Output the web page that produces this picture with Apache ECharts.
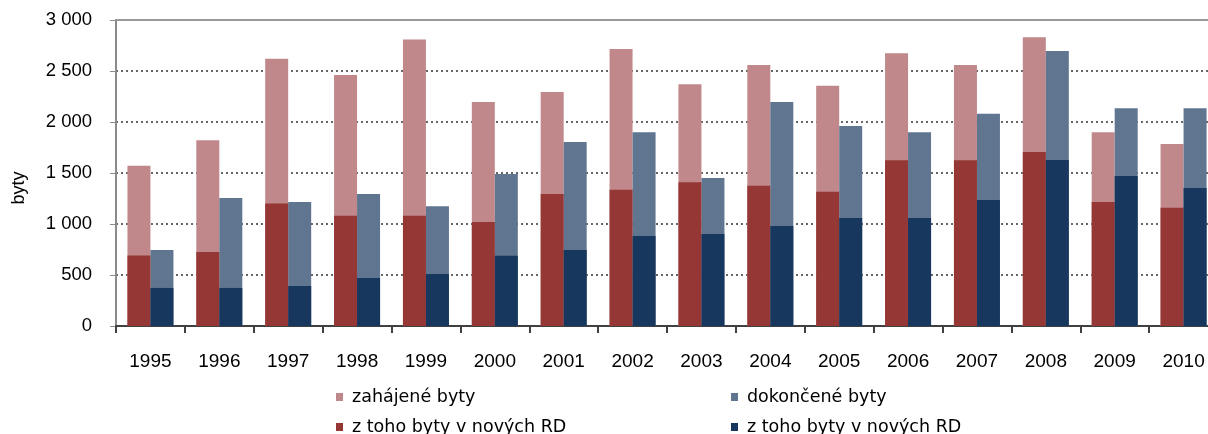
<!DOCTYPE html>
<html>
<head>
<meta charset="utf-8">
<script src="https://cdn.jsdelivr.net/npm/echarts@6/dist/echarts.min.js"></script>
<style>
html, body { margin: 0; padding: 0; overflow: hidden; background: #fff; }
#chart { width: 1240px; height: 434px; }
</style>
</head>
<body>
<div id="chart"></div>
<script>
const years = ['1995','1996','1997','1998','1999','2000','2001','2002','2003','2004','2005','2006','2007','2008','2009','2010'];
const zahajene = [1570, 1820, 2620, 2460, 2810, 2195, 2295, 2715, 2370, 2560, 2355, 2675, 2560, 2830, 1900, 1785];
const zahajeneRD = [690, 725, 1200, 1080, 1080, 1020, 1295, 1335, 1410, 1375, 1315, 1625, 1625, 1705, 1215, 1160];
const dokoncene = [745, 1255, 1215, 1295, 1175, 1490, 1805, 1900, 1450, 2195, 1960, 1900, 2080, 2695, 2135, 2135];
const dokonceneRD = [373, 373, 392, 470, 510, 688, 745, 882, 902, 980, 1060, 1060, 1235, 1627, 1470, 1353];
const yTicks = [0, 500, 1000, 1500, 2000, 2500, 3000];

const names = ['zahájené byty', 'dokončené byty', 'z toho byty v nových RD', 'z toho byty v nových RD '];
const colors = ['#C0888A', '#5F7590', '#953735', '#17375E'];

const chart = echarts.init(document.getElementById('chart'));
const fmt = v => String(v).replace(/\B(?=(\d{3})+(?!\d))/g, ' ');
const legendText = { fontFamily: 'DejaVu Sans', fontSize: 17.5, color: '#000', padding: [0, 0, 0, 4] };
const legendPos = [[336, 388], [731, 388], [336, 418], [731, 418]];

chart.setOption({
  animation: false,
  grid: { left: 116, right: 22, top: 20, bottom: 108 },
  legend: names.map((n, i) => ({
    left: legendPos[i][0], top: legendPos[i][1], itemWidth: 7, itemHeight: 8, icon: 'rect',
    data: [n], textStyle: legendText, selectedMode: false, padding: 0
  })),
  graphic: [{
    type: 'text', x: 19, y: 188, rotation: Math.PI / 2,
    style: { text: 'byty', fontFamily: 'Liberation Sans', fontSize: 18, fill: '#000', align: 'center', verticalAlign: 'middle' }
  }],
  xAxis: [
    { type: 'category', data: years, position: 'bottom',
      axisLine: { lineStyle: { color: '#404040', width: 2 } },
      axisTick: { show: true, length: 7, lineStyle: { color: '#404040', width: 2 } },
      axisLabel: { fontFamily: 'Liberation Sans', fontSize: 19, color: '#000', margin: 26 } },
    { type: 'category', data: years, show: false }
  ],
  yAxis: {
    type: 'value', min: yTicks[0], max: yTicks[yTicks.length - 1], interval: 500,
    axisLine: { show: true, lineStyle: { color: '#8a8a8a', width: 2 } },
    axisTick: { show: true, length: 6, lineStyle: { color: '#8a8a8a' } },
    axisLabel: { fontFamily: 'Liberation Sans', fontSize: 18.5, color: '#000', margin: 24, formatter: fmt },
    splitLine: { lineStyle: { color: '#666', type: [2, 3], width: 2 } }
  },
  series: [
    { name: names[0], type: 'bar', xAxisIndex: 0, data: zahajene, barWidth: 23, barGap: '0%',
      itemStyle: { color: colors[0] },
      markLine: { silent: true, symbol: 'none', label: { show: false },
        lineStyle: { color: '#9a9a9a', type: 'solid', width: 2 }, data: [{ yAxis: 3000 }] } },
    { name: names[1], type: 'bar', xAxisIndex: 0, data: dokoncene, barWidth: 23, barGap: '0%',
      itemStyle: { color: colors[1] } },
    { name: names[2], type: 'bar', xAxisIndex: 1, data: zahajeneRD, barWidth: 23, barGap: '0%',
      itemStyle: { color: colors[2] } },
    { name: names[3], type: 'bar', xAxisIndex: 1, data: dokonceneRD, barWidth: 23, barGap: '0%',
      itemStyle: { color: colors[3] } }
  ]
});
</script>
</body>
</html>
